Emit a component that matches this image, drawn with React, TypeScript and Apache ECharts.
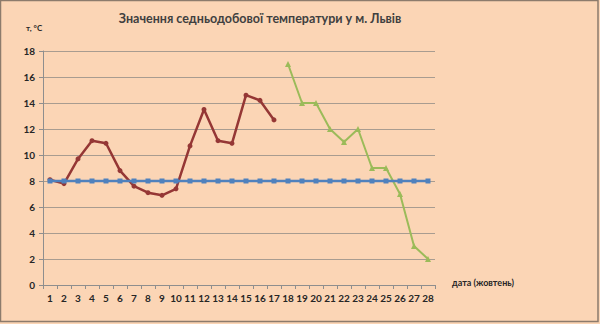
import React, { useEffect, useRef } from "react";
import * as echarts from "echarts";

const days = Array.from({ length: 28 }, (_, i) => String(i + 1));
const normTemp = [8, 8, 8, 8, 8, 8, 8, 8, 8, 8, 8, 8, 8, 8, 8, 8, 8, 8, 8, 8, 8, 8, 8, 8, 8, 8, 8, 8];
const actualTemp = [8.1, 7.8, 9.7, 11.1, 10.9, 8.8, 7.6, 7.1, 6.9, 7.4, 10.7, 13.5, 11.1, 10.9, 14.6, 14.2, 12.7,
  null, null, null, null, null, null, null, null, null, null, null];
const forecastTemp = [null, null, null, null, null, null, null, null, null, null, null, null, null, null, null, null, null,
  17, 14, 14, 12, 11, 12, 9, 9, 7, 3, 2];
const titleText = "Значення седньодобової температури у м. Львів";
const yName = "т, °C";
const xName = "дата (жовтень)";

const FONT = "Lato, 'Open Sans', sans-serif";
const TXT = "#262626";

export default function App() {
  const ref = useRef<HTMLDivElement>(null);
  useEffect(() => {
    if (!ref.current) return;
    const chart = echarts.init(ref.current, undefined, { renderer: "svg" });
    chart.setOption({
      animation: false,
      backgroundColor: "#FBD5B5",
      grid: { left: 43, right: 165, top: 51, bottom: 39, containLabel: false },
      graphic: [
        {
          type: "rect",
          shape: { x: 0.5, y: 0.5, width: 597.5, height: 321 },
          style: { fill: "none", stroke: "#8C7B6C", lineWidth: 1.5 },
          silent: true,
        },
        {
          type: "text",
          x: 260,
          y: 12,
          style: {
            text: titleText,
            fontFamily: FONT,
            fontWeight: "bold",
            fontSize: 12.5,
            fill: "#404040",
            align: "center",
            verticalAlign: "top",
          },
        },
        {
          type: "text",
          left: 26,
          top: 24,
          style: { text: yName, fontFamily: FONT, fontWeight: "bold", fontSize: 8, fill: TXT },
        },
        {
          type: "text",
          left: 452,
          top: 278,
          style: { text: xName, fontFamily: FONT, fontWeight: "bold", fontSize: 9, fill: TXT },
        },
      ],
      xAxis: {
        type: "category",
        data: days,
        boundaryGap: true,
        axisLine: { lineStyle: { color: "#8E8E8E", width: 1 } },
        axisTick: { show: true, alignWithLabel: false, length: 4, lineStyle: { color: "#8E8E8E" } },
        axisLabel: { color: TXT, fontFamily: FONT, fontWeight: "bold", fontSize: 10, margin: 8, interval: 0 },
        splitLine: { show: false },
      },
      yAxis: {
        type: "value",
        min: 0,
        max: 18,
        interval: 2,
        axisLine: { show: true, lineStyle: { color: "#8E8E8E", width: 1 } },
        axisTick: { show: true, length: 4, lineStyle: { color: "#8E8E8E" } },
        axisLabel: { color: TXT, fontFamily: FONT, fontWeight: "bold", fontSize: 10, margin: 8 },
        splitLine: { show: true, lineStyle: { color: "#A89C90", width: 1 } },
      },
      series: [
        {
          name: "norm",
          type: "line",
          data: normTemp,
          symbol: "rect",
          symbolSize: 5,
          lineStyle: { color: "#4F81BD", width: 2.5 },
          itemStyle: { color: "#4F81BD" },
          z: 3,
        },
        {
          name: "actual",
          type: "line",
          data: actualTemp,
          symbol: "circle",
          symbolSize: 5,
          connectNulls: false,
          lineStyle: { color: "#953735", width: 2.5 },
          itemStyle: { color: "#953735" },
          z: 2,
        },
        {
          name: "forecast",
          type: "line",
          data: forecastTemp,
          symbol: "triangle",
          symbolSize: 6,
          connectNulls: false,
          lineStyle: { color: "#9BBB59", width: 2 },
          itemStyle: { color: "#9BBB59" },
          z: 2,
        },
      ],
    });
    return () => chart.dispose();
  }, []);
  return <div ref={ref} style={{ width: 600, height: 324, position: "absolute", left: 0, top: 0 }} />;
}
